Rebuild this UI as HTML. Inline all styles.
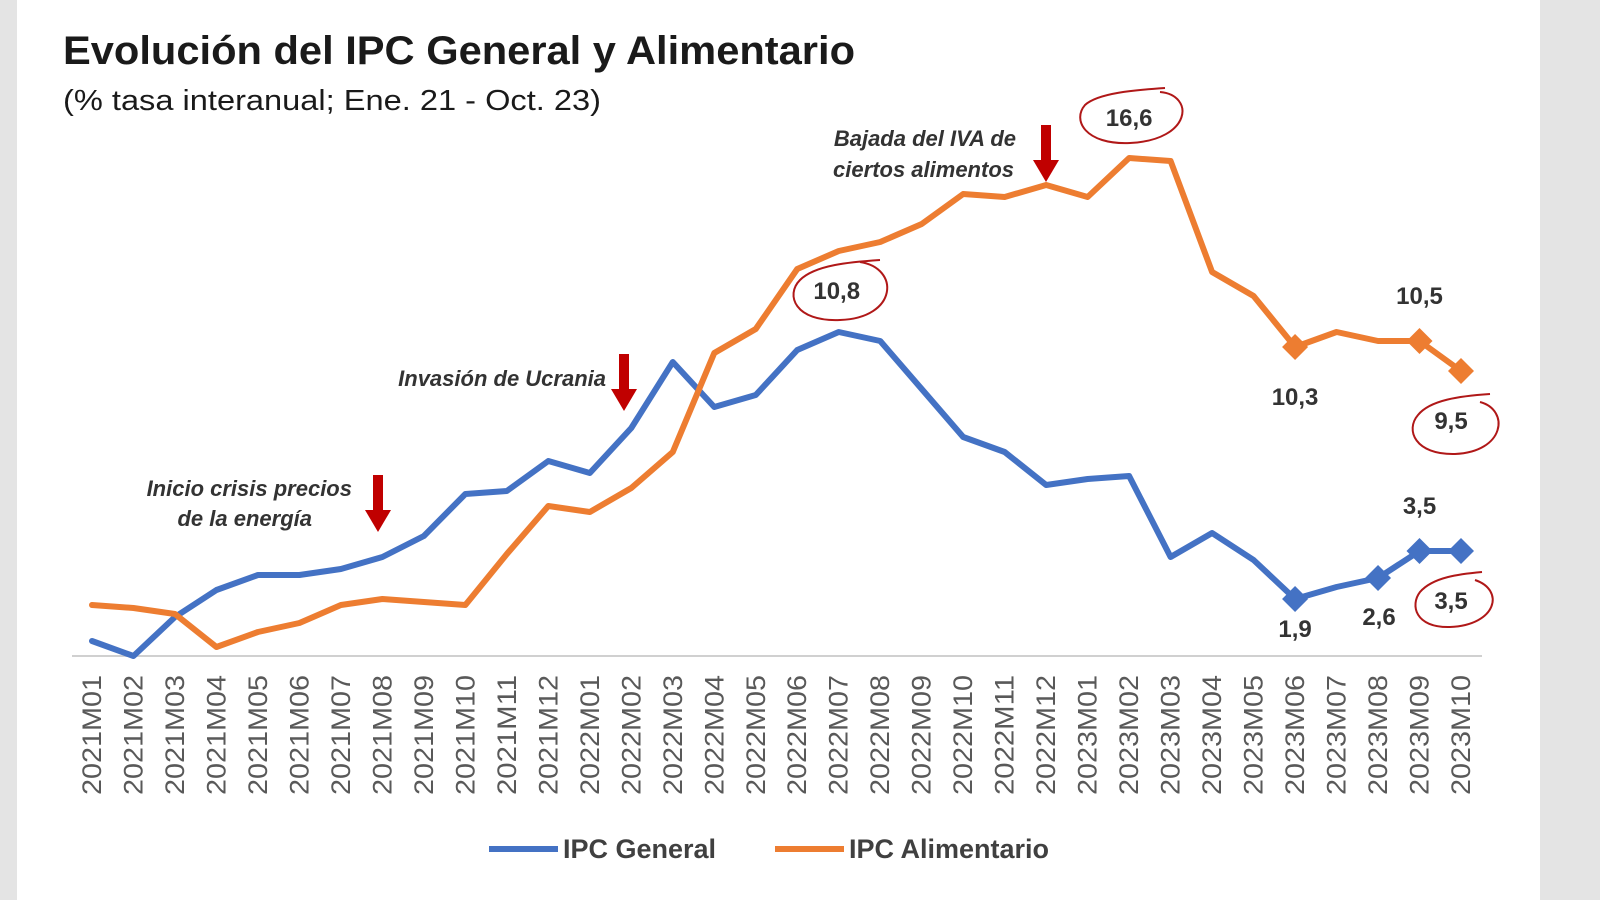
<!DOCTYPE html>
<html><head><meta charset="utf-8"><style>
html,body{margin:0;padding:0;background:#fff;}
svg{display:block;font-family:"Liberation Sans",sans-serif;}
</style></head><body>
<svg id="chart" width="1600" height="900" viewBox="0 0 1600 900">
<rect x="0" y="0" width="1600" height="900" fill="#fff"/>
<rect x="0" y="0" width="17" height="900" fill="#e4e4e4"/>
<rect x="1540" y="0" width="60" height="900" fill="#e4e4e4"/>
<text x="63" y="64" font-size="40" font-weight="bold" fill="#1a1a1a" textLength="792" lengthAdjust="spacingAndGlyphs">Evolución del IPC General y Alimentario</text>
<text x="63" y="110" font-size="29" fill="#1a1a1a" textLength="538" lengthAdjust="spacingAndGlyphs">(% tasa interanual; Ene. 21 - Oct. 23)</text>
<line x1="72" y1="656" x2="1482" y2="656" stroke="#d0d0d0" stroke-width="2"/>
<g id="xlabels"></g>
<g id="lines"></g>
<g id="annotations">
<text x="352" y="496" font-size="22" font-weight="bold" font-style="italic" fill="#333" text-anchor="end">Inicio crisis precios</text>
<text x="312" y="526" font-size="22" font-weight="bold" font-style="italic" fill="#333" text-anchor="end">de la energía</text>
<text x="606" y="386" font-size="22" font-weight="bold" font-style="italic" fill="#333" text-anchor="end">Invasión de Ucrania</text>
<text x="1016" y="146" font-size="22" font-weight="bold" font-style="italic" fill="#333" text-anchor="end">Bajada del IVA de</text>
<text x="1014" y="177" font-size="22" font-weight="bold" font-style="italic" fill="#333" text-anchor="end">ciertos alimentos</text>
<g fill="#c00000"><rect x="373" y="475" width="10" height="38"/><polygon points="365,510 391,510 378,532"/></g>
<g fill="#c00000"><rect x="619" y="354" width="10" height="38"/><polygon points="611,389 637,389 624,411"/></g>
<g fill="#c00000"><rect x="1041" y="125" width="10" height="38"/><polygon points="1033,160 1059,160 1046,182"/></g>
<g fill="none" stroke="#b01818" stroke-width="2">
<path d="M1160,92 C1195,95 1192,140 1130,143 C1085,145 1072,120 1085,105 C1098,93 1135,90 1165,88"/>
<path d="M860,262 C900,268 898,318 840,320 C795,322 785,295 800,280 C815,265 850,262 880,260"/>
<path d="M1480,402 C1510,410 1505,452 1455,454 C1415,455 1405,430 1418,415 C1430,400 1460,396 1490,394"/>
<path d="M1475,580 C1505,590 1497,625 1450,627 C1415,628 1410,605 1420,592 C1433,577 1460,574 1482,572"/>
</g>
</g>
<g id="labels" font-size="24" font-weight="bold" fill="#333" text-anchor="middle"></g>
<g>
<line x1="489" y1="849" x2="558" y2="849" stroke="#4472c4" stroke-width="6"/>
<text x="563" y="858" font-size="27" font-weight="bold" fill="#404040">IPC General</text>
<line x1="775" y1="849" x2="844" y2="849" stroke="#ed7d31" stroke-width="6"/>
<text x="849" y="858" font-size="27" font-weight="bold" fill="#404040">IPC Alimentario</text>
</g>
</svg>
<script>
const categories = ["2021M01","2021M02","2021M03","2021M04","2021M05","2021M06","2021M07","2021M08","2021M09","2021M10","2021M11","2021M12","2022M01","2022M02","2022M03","2022M04","2022M05","2022M06","2022M07","2022M08","2022M09","2022M10","2022M11","2022M12","2023M01","2023M02","2023M03","2023M04","2023M05","2023M06","2023M07","2023M08","2023M09","2023M10"];
const general = [0.5,0,1.3,2.2,2.7,2.7,2.9,3.3,4.0,5.4,5.5,6.5,6.1,7.6,9.8,8.3,8.7,10.2,10.8,10.5,8.9,7.3,6.8,5.7,5.9,6.0,3.3,4.1,3.2,1.9,2.3,2.6,3.5,3.5];
const alimentario = [1.7,1.6,1.4,0.3,0.8,1.1,1.7,1.9,1.8,1.7,3.4,5.0,4.8,5.6,6.8,10.1,10.9,12.9,13.5,13.8,14.4,15.4,15.3,15.7,15.3,16.6,16.5,12.8,12.0,10.3,10.8,10.5,10.5,9.5];
const generalMarkers = [29,31,32,33];
const alimentarioMarkers = [29,32,33];
const NS = "http://www.w3.org/2000/svg";
const X0 = 92, X1 = 1461, Y0 = 656, PXU = 30;
function xs(i){ return X0 + i*(X1-X0)/(categories.length-1); }
function ys(v){ return Y0 - v*PXU; }
function mk(tag, attrs, parent){ const e=document.createElementNS(NS,tag); for(const k in attrs) e.setAttribute(k,attrs[k]); parent.appendChild(e); return e; }
const xl = document.getElementById('xlabels');
categories.forEach((c,i)=>{
  const t = mk('text',{x:0,y:0,'font-size':27,fill:'#595959','text-anchor':'end',textLength:120,lengthAdjust:'spacingAndGlyphs',transform:`translate(${xs(i)+9},675) rotate(-90)`},xl);
  
  
  t.textContent = c;
});
const lg = document.getElementById('lines');
function series(vals, color, name, markers){
  const p = mk('polyline',{points:vals.map((v,i)=>xs(i)+','+ys(v)).join(' '),fill:'none',stroke:color,'stroke-width':6,'stroke-linejoin':'round','stroke-linecap':'round'},lg);
  
  
  markers.forEach(i=>{
    const x=xs(i), y=ys(vals[i]);
    const d = mk('polygon',{points:`${x},${y-13} ${x+13},${y} ${x},${y+13} ${x-13},${y}`,fill:color},lg);
    
    
  });
}
series(general,'#4472c4','ipc-general',generalMarkers);
series(alimentario,'#ed7d31','ipc-alimentario',alimentarioMarkers);
const lb = document.getElementById('labels');
function fmt(v){ return v.toFixed(1).replace('.',','); }
const labelSpecs = [
  [alimentario,25,-32,0],[general,18,-33,-2],[alimentario,29,58,0],[alimentario,32,-37,0],[alimentario,33,58,-10],
  [general,29,38,0],[general,31,47,1],[general,32,-37,0],[general,33,58,-10]
];
labelSpecs.forEach(([arr,i,dy,dx])=>{
  const t = mk('text',{x:xs(i)+dx,y:ys(arr[i])+dy},lb);
  
  
  t.textContent = fmt(arr[i]);
});
</script>
</body></html>
